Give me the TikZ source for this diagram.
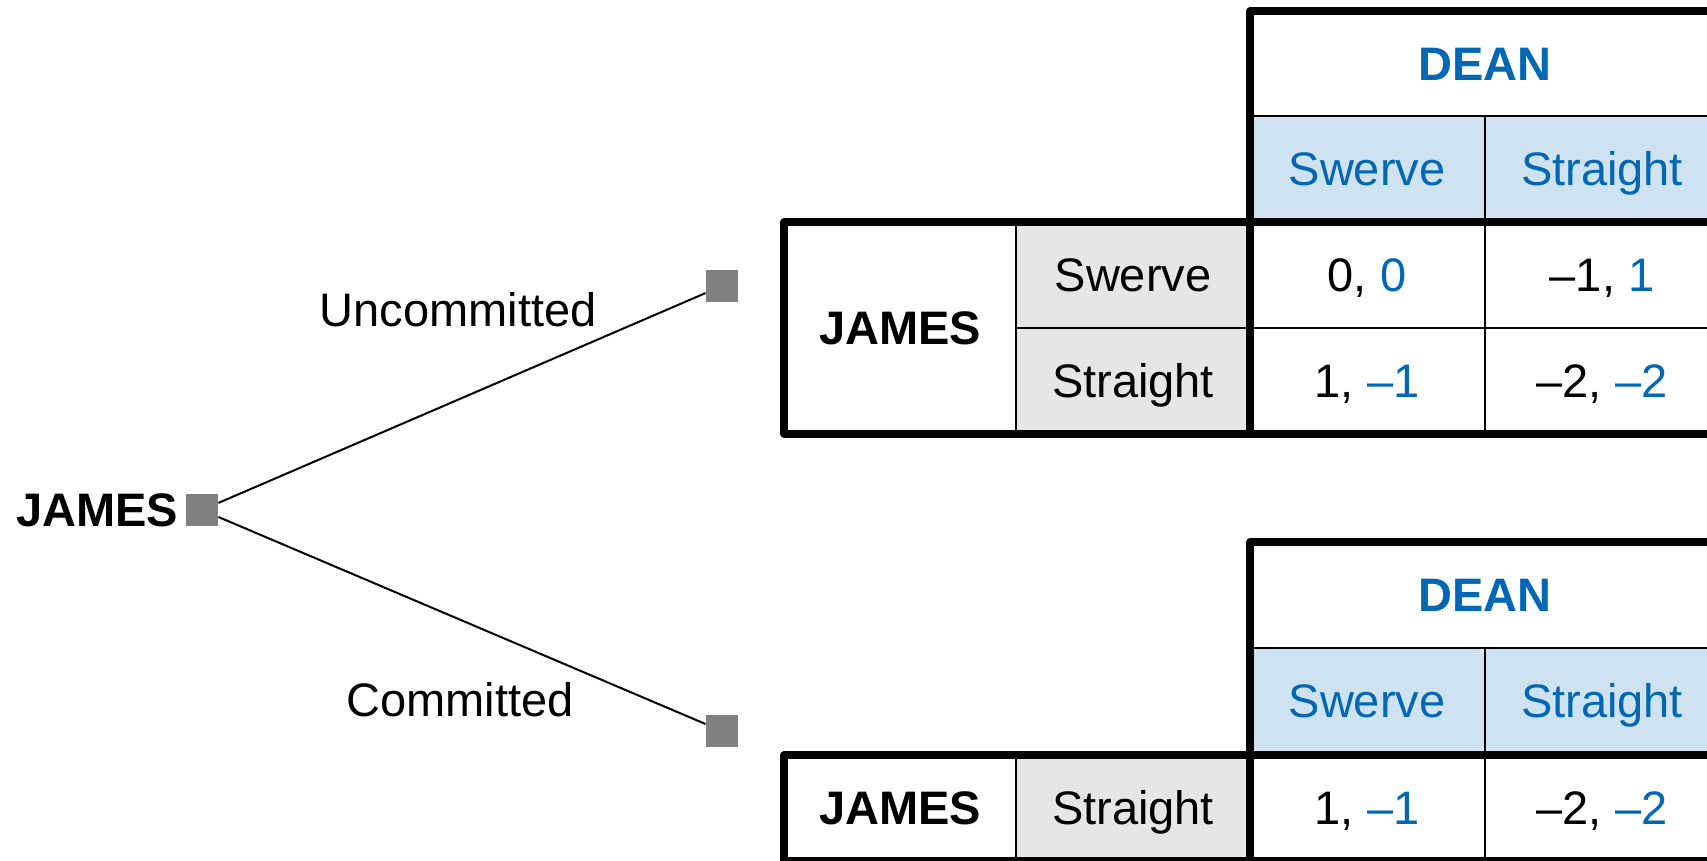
\documentclass[tikz,border=0pt]{standalone}
\usepackage{fontspec}
\setmainfont{Liberation Sans}
\usepackage{xcolor}
\usetikzlibrary{positioning}

\definecolor{deanblue}{RGB}{0,103,180}
\definecolor{headblue}{RGB}{207,226,241}
\definecolor{rowgray}{RGB}{230,230,230}
\definecolor{nodegray}{RGB}{128,128,128}
\newcommand{\db}[1]{\textcolor{deanblue}{#1}}

\tikzset{
  txt/.style={font=\fontsize{23.5pt}{28pt}\selectfont, inner sep=0pt, text height=16.8pt, text depth=0pt},
  player/.style={txt, font=\fontsize{23.5pt}{28pt}\selectfont\bfseries},
  decnode/.style={fill=nodegray, minimum size=16pt, inner sep=0pt},
  gridline/.style={line width=1pt},
  frameline/.style={line width=3.6pt, line join=round},
}

\begin{document}
\begin{tikzpicture}[x=0.5pt,y=-0.5pt]
	\clip (0,0) rectangle (1707,861);

	% game tree
	\node[decnode] (root) at (202,510) {};
	\node[decnode] (unc)  at (722,286) {};
	\node[decnode] (com)  at (722,731) {};
	\node[player, left=3.5pt of root] (rootlbl) {JAMES};
	\draw[gridline] (root) -- (unc);
	\draw[gridline] (root) -- (com);
	\node[txt] (unclbl) at (458,310) {Uncommitted};
	\node[txt] (comlbl) at (460,700) {Committed};

	% upper table
	\fill[headblue] (1250,116) rectangle (1720,222);
	\fill[rowgray]  (1016,222) rectangle (1250,434);
	\draw[gridline] (1250,116) -- (1720,116)
		(1485,116) -- (1485,434)
		(1016,328) -- (1720,328)
		(1016,222) -- (1016,434);
	\draw[frameline] (1720,11) -- (1250,11) -- (1250,434);
	\draw[frameline] (784,222) rectangle (1720,434);

	\node[player, text=deanblue] (udean) at (1485,64) {DEAN};
	\node[txt, text=deanblue] (udsw) at (1367,169) {Swerve};
	\node[txt, text=deanblue] (udst) at (1602,169) {Straight};
	\node[player] (ujames) at (900,328) {JAMES};
	\node[txt] (ujsw) at (1133,275) {Swerve};
	\node[txt] (ujst) at (1133,381) {Straight};
	\node[txt] (uss) at (1367,275) {0, \db{0}};
	\node[txt] (ust) at (1602,275) {\textendash1, \db{1}};
	\node[txt] (uts) at (1367,381) {1, \db{\textendash1}};
	\node[txt] (utt) at (1602,381) {\textendash2, \db{\textendash2}};

	% lower table
	\fill[headblue] (1250,648) rectangle (1720,755);
	\fill[rowgray]  (1016,755) rectangle (1250,861);
	\draw[gridline] (1250,648) -- (1720,648)
		(1485,648) -- (1485,861)
		(1016,755) -- (1016,861);
	\draw[frameline] (1720,542) -- (1250,542) -- (1250,861);
	\draw[frameline] (784,755) rectangle (1720,861);

	\node[player, text=deanblue] (ldean) at (1485,595) {DEAN};
	\node[txt, text=deanblue] (ldsw) at (1367,701) {Swerve};
	\node[txt, text=deanblue] (ldst) at (1602,701) {Straight};
	\node[player] (ljames) at (900,808) {JAMES};
	\node[txt] (ljst) at (1133,808) {Straight};
	\node[txt] (lts) at (1367,808) {1, \db{\textendash1}};
	\node[txt] (ltt) at (1602,808) {\textendash2, \db{\textendash2}};
\end{tikzpicture}
\end{document}
